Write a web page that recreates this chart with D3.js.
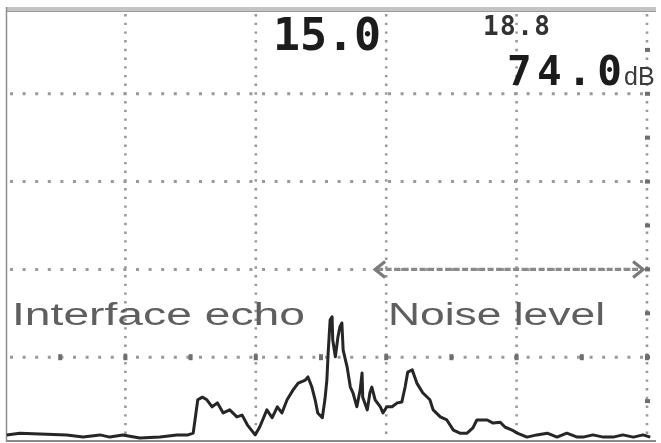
<!DOCTYPE html>
<html><head><meta charset="utf-8">
<script src="https://cdn.jsdelivr.net/npm/d3@7"></script>
<style>html,body{margin:0;padding:0;background:#fff;overflow:hidden}</style>
</head><body><svg id="c" width="661" height="443"></svg>
<script>
// ---- data (screen %: x = time base, y = amplitude) ----
const tracePos = [1.8,3.8,6.9,11.0,13.5,16.1,17.6,19.6,22.2,25.3,27.9,29.6,30.4,31.1,31.8,32.5,33.3,34.1,35.0,36.0,37.1,37.9,38.7,39.9,40.6,41.7,42.5,43.3,44.0,44.8,45.7,46.5,47.6,48.0,48.6,49.1,49.5,50.2,50.6,50.9,51.1,51.4,51.7,51.8,52.2,52.6,52.9,53.2,53.4,54.0,54.5,54.9,55.5,56.0,56.3,56.4,57.1,57.5,57.8,58.3,59.1,59.5,60.1,60.9,61.7,62.4,62.9,63.3,64.0,64.7,65.6,66.7,67.2,68.3,69.3,70.3,71.3,72.4,73.3,73.9,75.5,76.4,77.5,78.2,79.3,80.1,81.6,83.1,84.7,86.2,87.7,89.3,90.2,91.7,93.3,94.8,96.3,97.9,99.4,100.5];
const traceAmp = [2.3,2.7,2.5,2.3,1.8,2.3,1.8,2.3,1.6,1.8,2.3,2.3,2.7,10.3,10.9,10.3,8.7,9.6,7.3,8.0,6.4,6.8,4.6,2.3,4.1,8.0,6.2,8.7,7.3,10.3,12.5,14.1,14.8,15.5,13.2,10.3,7.3,6.2,10.3,14.8,21.0,28.5,29.2,23.9,20.1,24.6,26.9,27.8,21.6,17.8,13.2,11.9,8.7,12.5,16.4,10.9,8.0,11.9,13.2,10.3,8.7,7.3,8.7,8.7,9.6,9.8,13.2,16.6,17.1,14.1,11.9,10.3,8.0,6.4,5.7,3.4,2.7,2.7,3.9,5.7,5.7,5.0,5.2,4.1,3.4,2.7,1.8,2.3,2.7,1.8,2.7,1.8,1.8,2.3,1.8,1.8,2.3,1.8,2.3,1.8];
const xGridTicks = [20, 40, 60, 80, 100];
const yGridTicks = [20, 40, 60, 80];
const xMinorTicks = [10, 20, 30, 40, 50, 60, 70, 80, 90, 100];
const yMinorTicks = [10, 20, 30, 40, 50, 60, 70, 80, 90];
const readoutMain = "15.0";
const readoutSmall = "18.8";
const readoutGain = "74.0";
const readoutUnit = "dB";
const labelEcho = "Interface echo";
const labelNoise = "Noise level";
const noiseRange = [58.3, 99.4];
const noiseLevel = 40;

// ---- scales ----
const x = d3.scaleLinear().domain([0, 100]).range([-5, 647]);
const y = d3.scaleLinear().domain([0, 100]).range([445, 6]);
const svg = d3.select("#c");
const pLeft = 7, pRight = 647, pTop = 12, pBottom = 440;

const defs = svg.append("defs");
defs.append("filter").attr("id", "soft").attr("x", "-5%").attr("y", "-5%").attr("width", "110%").attr("height", "110%")
  .append("feGaussianBlur").attr("stdDeviation", 0.55);
const root = svg.append("g").attr("filter", "url(#soft)");

// frame
root.append("rect").attr("x", pLeft).attr("y", 7).attr("width", 649).attr("height", 5).attr("fill", "#c4c4c4");
root.append("line").attr("x1", pLeft).attr("x2", 656).attr("y1", 11.5).attr("y2", 11.5).attr("stroke", "#9a9a9a").attr("stroke-width", 1.2);
root.append("line").attr("x1", 6.5).attr("x2", 6.5).attr("y1", 7).attr("y2", pBottom + 2).attr("stroke", "#8e8e8e").attr("stroke-width", 1.5);
root.append("line").attr("x1", pLeft).attr("x2", 656).attr("y1", 441).attr("y2", 441).attr("stroke", "#8a8a8a").attr("stroke-width", 1.8);

// grid
const g = root.append("g");
g.selectAll("line.h").data(yGridTicks).join("line")
  .attr("x1", pLeft + 3).attr("x2", pRight + 4).attr("y1", d => y(d)).attr("y2", d => y(d))
  .attr("stroke", "#999").attr("stroke-width", 3).attr("stroke-dasharray", "3,9.6");
g.selectAll("line.v").data(xGridTicks).join("line")
  .attr("x1", d => x(d)).attr("x2", d => x(d)).attr("y1", pTop + 2).attr("y2", pBottom)
  .attr("stroke", "#9a9a9a").attr("stroke-width", 2.6).attr("stroke-dasharray", "2.4,6.3");
// minor tick marks on the 20% line and the right edge
g.selectAll("rect.mx").data(xMinorTicks).join("rect")
  .attr("x", d => x(d) - 2).attr("y", y(20) - 3).attr("width", 4).attr("height", 6).attr("fill", "#6e6e6e");
g.selectAll("rect.my").data(yMinorTicks).join("rect")
  .attr("x", x(100) - 2).attr("y", d => y(d) - 2).attr("width", 5).attr("height", 4).attr("fill", "#6e6e6e");

// noise-level arrow
const ay = y(noiseLevel), ax0 = x(noiseRange[0]), ax1 = x(noiseRange[1]);
root.append("line").attr("x1", ax0 + 2).attr("x2", ax1 - 2).attr("y1", ay).attr("y2", ay)
  .attr("stroke", "#8a8a8a").attr("stroke-width", 3.2).attr("stroke-dasharray", "6,2.5");
root.append("path").attr("d", `M${ax0 + 10},${ay - 8} L${ax0},${ay} L${ax0 + 10},${ay + 8}`)
  .attr("fill", "none").attr("stroke", "#7a7a7a").attr("stroke-width", 3.2);
root.append("path").attr("d", `M${ax1 - 10},${ay - 8} L${ax1},${ay} L${ax1 - 10},${ay + 8}`)
  .attr("fill", "none").attr("stroke", "#7a7a7a").attr("stroke-width", 3.2);

// labels
root.append("text").attr("x", 12).attr("y", 325).text(labelEcho)
  .attr("font-family", "Liberation Sans, Arial, sans-serif").attr("font-size", 31).attr("fill", "#5e5e5e")
  .attr("textLength", 293).attr("lengthAdjust", "spacingAndGlyphs");
root.append("text").attr("x", 388).attr("y", 325).text(labelNoise)
  .attr("font-family", "Liberation Sans, Arial, sans-serif").attr("font-size", 31).attr("fill", "#5e5e5e")
  .attr("textLength", 217).attr("lengthAdjust", "spacingAndGlyphs");

// trace
const pts = tracePos.map((p, i) => [p, traceAmp[i]]);
const line = d3.line().x(d => x(d[0])).y(d => y(d[1]));
root.append("path").datum(pts).attr("d", line).attr("fill", "none")
  .attr("stroke", "#262626").attr("stroke-width", 3).attr("stroke-linejoin", "round");

// readouts
const mono = "DejaVu Sans Mono, monospace";
root.append("text").attr("x", 273).attr("y", 50).text(readoutMain)
  .attr("font-family", mono).attr("font-weight", "bold").attr("font-size", 45).attr("fill", "#1c1c1c")
  .attr("textLength", 108).attr("lengthAdjust", "spacing");
root.append("text").attr("x", 483).attr("y", 35).text(readoutSmall)
  .attr("font-family", mono).attr("font-weight", "bold").attr("font-size", 26).attr("fill", "#333")
  .attr("textLength", 67).attr("lengthAdjust", "spacing");
root.append("text").attr("x", 507).attr("y", 85).text(readoutGain)
  .attr("font-family", mono).attr("font-weight", "bold").attr("font-size", 41).attr("fill", "#1c1c1c")
  .attr("textLength", 115).attr("lengthAdjust", "spacing");
root.append("text").attr("x", 624).attr("y", 85).text(readoutUnit)
  .attr("font-family", "Liberation Sans, sans-serif").attr("font-size", 25).attr("fill", "#3a3a3a");
</script></body></html>
